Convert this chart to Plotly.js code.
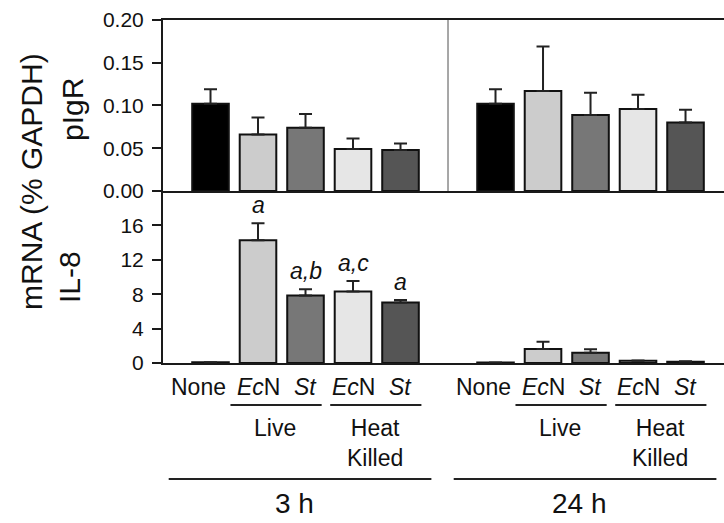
<!DOCTYPE html>
<html>
<head>
<meta charset="utf-8">
<script src="https://cdn.plot.ly/plotly-3.0.1.min.js"></script>
<style>html,body{margin:0;padding:0;background:#fff;overflow:hidden}</style>
</head>
<body>
<div id="chart" style="width:724px;height:523px"></div>
<script>
// ---- data ----
const timeGroups = ["3 h", "24 h"];
const treatmentLabels = ["None", "<i>Ec</i>N", "<i>St</i>", "<i>Ec</i>N", "<i>St</i>"];
const conditionLabels = ["Live", "Heat<br>Killed"];
const barColors = ["#000000", "#cccccc", "#777777", "#e6e6e6", "#555555"];

// pIgR mRNA (% GAPDH): 3 h (5 treatments) then 24 h (5 treatments)
const pigrValues = [0.102, 0.066, 0.074, 0.049, 0.048, 0.102, 0.117, 0.089, 0.096, 0.080];
const pigrErrors = [0.017, 0.020, 0.016, 0.0125, 0.0075, 0.017, 0.052, 0.026, 0.0165, 0.015];

// IL-8 mRNA (% GAPDH)
const il8Values = [0.08, 14.26, 7.85, 8.31, 7.03, 0.06, 1.62, 1.20, 0.25, 0.15];
const il8Errors = [0, 2.0, 0.73, 1.23, 0.30, 0, 0.85, 0.39, 0.05, 0.05];
const il8Letters = ["", "a", "a,b", "a,c", "a", "", "", "", "", ""];

const pigrTicks = [0, 0.05, 0.10, 0.15, 0.20];
const il8Ticks = [0, 4, 8, 12, 16];

// ---- build ----
const FONT = "Liberation Sans, Arial, sans-serif";
const TXT = "#111111";
const groupStep = treatmentLabels.length + 1;
const xs = [], cols = [];
timeGroups.forEach((g, gi) => treatmentLabels.forEach((t, i) => { xs.push(gi * groupStep + i); cols.push(barColors[i]); }));

const barCommon = {
  type: "bar", x: xs, width: 0.77, hoverinfo: "skip",
  marker: { color: cols, line: { color: "#111", width: 2 } }
};
const traces = [
  Object.assign({}, barCommon, {
    y: pigrValues, xaxis: "x2", yaxis: "y2",
    error_y: { type: "data", symmetric: false, array: pigrErrors, arrayminus: pigrValues.map(() => 0), color: "#222", thickness: 2, width: 6.5 }
  }),
  Object.assign({}, barCommon, {
    y: il8Values, xaxis: "x", yaxis: "y",
    error_y: { type: "data", symmetric: false, array: il8Errors, arrayminus: il8Values.map(() => 0), color: "#222", thickness: 2, width: 6.5 }
  })
];

const xRange = [-1, 10.81];
const split = 0.5015;
const annotations = [];
const shapes = [];

// letters above IL-8 bars
il8Letters.forEach((L, k) => {
  if (!L) return;
  annotations.push({ xref: "x", yref: "y", x: xs[k], y: il8Values[k] + il8Errors[k], text: "<i>" + L + "</i>",
    showarrow: false, yanchor: "bottom", yshift: 3, font: { family: FONT, size: 23, color: TXT } });
});

// category axis labels
timeGroups.forEach((g, gi) => {
  const base = gi * groupStep;
  treatmentLabels.forEach((t, i) => {
    annotations.push({ xref: "x", yref: "paper", x: base + i, y: -0.07, text: t, showarrow: false,
      xanchor: "center", yanchor: "middle", xshift: i === 0 ? -12 : 0, font: { family: FONT, size: 23, color: TXT } });
  });
  // Live / Heat Killed
  const spans = [[base + 0.42, base + 2.34], [base + 2.52, base + 4.44]];
  conditionLabels.forEach((c, ci) => {
    const [a, b] = spans[ci];
    shapes.push({ type: "line", xref: "x", yref: "paper", x0: a, x1: b, y0: -0.1224, y1: -0.1224, line: { color: "#222", width: 2 } });
    annotations.push({ xref: "x", yref: "paper", x: (a + b) / 2 - 0.02, y: -0.147, text: c, showarrow: false,
      xanchor: "center", yanchor: "top", font: { family: FONT, size: 23, color: TXT } });
  });
  shapes.push({ type: "line", xref: "x", yref: "paper", x0: base - 0.88, x1: base + 4.65, y0: -0.338, y1: -0.338, line: { color: "#222", width: 2 } });
  annotations.push({ xref: "x", yref: "paper", x: base + 1.76, y: -0.41, text: g, showarrow: false,
    xanchor: "center", yanchor: "middle", font: { family: FONT, size: 28, color: TXT } });
});

// divider between time groups (top panel)
shapes.push({ type: "line", xref: "x2", yref: "y2 domain", x0: treatmentLabels.length, x1: treatmentLabels.length, y0: 0, y1: 1,
  line: { color: "#8a8a8a", width: 1.5 } });

// y titles
annotations.push({ xref: "paper", yref: "paper", x: -0.2353, y: 0.5306, text: "mRNA (% GAPDH)", textangle: -90, showarrow: false,
  xanchor: "center", yanchor: "middle", font: { family: FONT, size: 30, color: TXT } });
annotations.push({ xref: "paper", yref: "paper", x: -0.1622, y: 0.7376, text: "pIgR", textangle: -90, showarrow: false,
  xanchor: "center", yanchor: "middle", font: { family: FONT, size: 30, color: TXT } });
annotations.push({ xref: "paper", yref: "paper", x: -0.1676, y: 0.2507, text: "IL-8", textangle: -90, showarrow: false,
  xanchor: "center", yanchor: "middle", font: { family: FONT, size: 30, color: TXT } });

const yCommon = {
  showline: true, linecolor: "#1a1a1a", linewidth: 2, ticks: "outside", ticklen: 9, tickwidth: 2, tickcolor: "#1a1a1a",
  ticklabelstandoff: 4,
  showgrid: false, zeroline: false, fixedrange: true, tickfont: { family: FONT, size: 21, color: TXT }
};
const xCommon = {
  range: xRange, showline: true, linecolor: "#1a1a1a", linewidth: 2, ticks: "", showticklabels: false,
  showgrid: false, zeroline: false, fixedrange: true
};

const layout = {
  width: 724, height: 523,
  margin: { l: 163, r: 0, t: 20, b: 160, pad: 0 },
  paper_bgcolor: "#ffffff", plot_bgcolor: "#ffffff",
  showlegend: false, barmode: "overlay",
  font: { family: FONT, color: TXT },
  xaxis: Object.assign({}, xCommon, { anchor: "y" }),
  xaxis2: Object.assign({}, xCommon, { anchor: "y2", matches: "x", mirror: true }),
  yaxis: Object.assign({}, yCommon, { domain: [0, split], range: [0, 20], tickvals: il8Ticks, ticktext: il8Ticks.map(String), anchor: "x" }),
  yaxis2: Object.assign({}, yCommon, { domain: [split, 1], range: [0, 0.2], tickvals: pigrTicks, ticktext: pigrTicks.map(v => v.toFixed(2)), anchor: "x2" }),
  annotations: annotations,
  shapes: shapes
};

Plotly.newPlot("chart", traces, layout, { staticPlot: true, displayModeBar: false });
</script>
</body>
</html>
